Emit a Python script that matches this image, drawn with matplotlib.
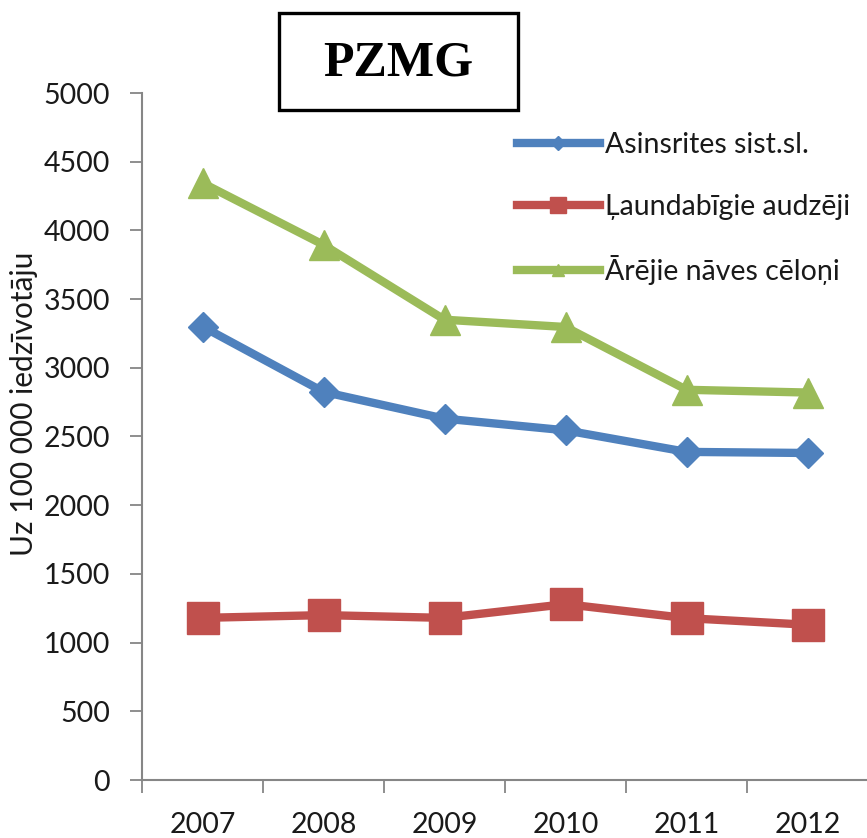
import matplotlib
matplotlib.use("Agg")
import matplotlib.pyplot as plt
import matplotlib.patches as mpatches
from matplotlib.lines import Line2D
import numpy as np

years = ["2007", "2008", "2009", "2010", "2011", "2012"]
asinsrites = [3300, 2825, 2630, 2545, 2388, 2380]
laundabigie = [1180, 1200, 1180, 1280, 1178, 1130]
arejie = [4345, 3895, 3350, 3297, 2840, 2820]
series_names = ["Asinsrites sist.sl.", "Ļaundabīgie audzēji", "Ārējie nāves cēloņi"]
title = "PZMG"
ylabel = "Uz 100 000 iedzīvotāju"

blue = "#4F81BD"
red = "#C0504D"
green = "#9BBB59"
font = "Lato"
txtc = "#1a1a1a"

W, H = 867, 838
fig = plt.figure(figsize=(W / 100, H / 100), dpi=100)
ax = fig.add_axes([142 / W, 1 - 780 / H, (868 - 142) / W, (780 - 93) / H])

x = np.arange(len(years))
ax.plot(x, asinsrites, color=blue, lw=6, marker="D", ms=15)
ax.plot(x, laundabigie, color=red, lw=6, marker="s", ms=23)
ax.plot(x, arejie, color=green, lw=6, marker="^", ms=22)

ax.set_xlim(-0.5, len(years) - 0.5)
ax.set_ylim(0, 5000)
ax.set_yticks(np.arange(0, 5001, 500))
ax.set_xticks(x)
ax.set_xticklabels(years)
ax.set_xticks(np.arange(-0.5, len(years), 1.0), minor=True)

for s in ["top", "right"]:
    ax.spines[s].set_visible(False)
for s in ["left", "bottom"]:
    ax.spines[s].set_color("#868686")
    ax.spines[s].set_linewidth(1.5)

ax.tick_params(axis="y", direction="out", length=9, width=1.3, color="#868686",
               pad=14, labelsize=20.5, labelcolor=txtc)
ax.tick_params(axis="x", which="major", length=0, pad=23, labelsize=20.5, labelcolor=txtc)
ax.tick_params(axis="x", which="minor", direction="out", length=9, width=1.3, color="#868686")
for lab in ax.get_xticklabels() + ax.get_yticklabels():
    lab.set_fontfamily(font)

fig.text(24 / W, 1 - 404 / H, ylabel, rotation=90, ha="center", va="center",
         fontsize=21.5, family=font, color=txtc)

# Title box
fig.patches.append(mpatches.Rectangle((279 / W, 1 - 110 / H), (518 - 279) / W, (110 - 13) / H,
                                      transform=fig.transFigure, fill=False,
                                      edgecolor="black", lw=2.4))
fig.text(398.5 / W, 1 - 63 / H, title, ha="center", va="center", fontsize=36,
         family="Liberation Serif", weight="bold")

handles = [
    Line2D([], [], color=blue, lw=6, marker="D", ms=7),
    Line2D([], [], color=red, lw=6, marker="s", ms=11),
    Line2D([], [], color=green, lw=6, marker="^", ms=9),
]
leg = ax.legend(handles, series_names, loc="upper left",
                bbox_to_anchor=(517 / W, 1 - 132 / H), bbox_transform=fig.transFigure,
                frameon=False, prop={"family": font, "size": 20.5},
                handlelength=2.9, handletextpad=0.18, labelspacing=1.25, borderpad=0,
                borderaxespad=0)
for t in leg.get_texts():
    t.set_color(txtc)

fig.savefig("out.png", dpi=100)
